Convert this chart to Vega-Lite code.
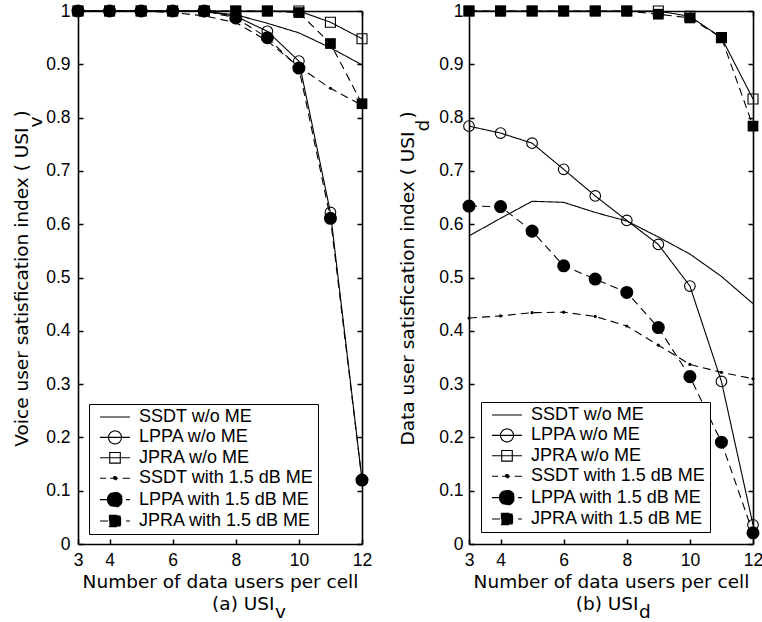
{
 "$schema": "https://vega.github.io/schema/vega-lite/v6.json",
 "padding": {"left": 12, "top": 2, "right": 0, "bottom": 0},
 "background": "white",
 "data": {"values": [
  {"p":"a","s":"SSDT w/o ME","x":3,"y":1},{"p":"a","s":"SSDT w/o ME","x":4,"y":1},{"p":"a","s":"SSDT w/o ME","x":5,"y":1},{"p":"a","s":"SSDT w/o ME","x":6,"y":1},{"p":"a","s":"SSDT w/o ME","x":7,"y":0.999},{"p":"a","s":"SSDT w/o ME","x":8,"y":0.993},{"p":"a","s":"SSDT w/o ME","x":9,"y":0.977},{"p":"a","s":"SSDT w/o ME","x":10,"y":0.959},{"p":"a","s":"SSDT w/o ME","x":11,"y":0.931},{"p":"a","s":"SSDT w/o ME","x":12,"y":0.899},
  {"p":"a","s":"LPPA w/o ME","x":3,"y":1},{"p":"a","s":"LPPA w/o ME","x":4,"y":1},{"p":"a","s":"LPPA w/o ME","x":5,"y":1},{"p":"a","s":"LPPA w/o ME","x":6,"y":1},{"p":"a","s":"LPPA w/o ME","x":7,"y":1},{"p":"a","s":"LPPA w/o ME","x":8,"y":0.99},{"p":"a","s":"LPPA w/o ME","x":9,"y":0.962},{"p":"a","s":"LPPA w/o ME","x":10,"y":0.906},{"p":"a","s":"LPPA w/o ME","x":11,"y":0.622},{"p":"a","s":"LPPA w/o ME","x":12,"y":0.12},
  {"p":"a","s":"JPRA w/o ME","x":3,"y":1},{"p":"a","s":"JPRA w/o ME","x":4,"y":1},{"p":"a","s":"JPRA w/o ME","x":5,"y":1},{"p":"a","s":"JPRA w/o ME","x":6,"y":1},{"p":"a","s":"JPRA w/o ME","x":7,"y":1},{"p":"a","s":"JPRA w/o ME","x":8,"y":1},{"p":"a","s":"JPRA w/o ME","x":9,"y":1},{"p":"a","s":"JPRA w/o ME","x":10,"y":1},{"p":"a","s":"JPRA w/o ME","x":11,"y":0.979},{"p":"a","s":"JPRA w/o ME","x":12,"y":0.948},
  {"p":"a","s":"SSDT with 1.5 dB ME","x":3,"y":1},{"p":"a","s":"SSDT with 1.5 dB ME","x":4,"y":1},{"p":"a","s":"SSDT with 1.5 dB ME","x":5,"y":1},{"p":"a","s":"SSDT with 1.5 dB ME","x":6,"y":0.997},{"p":"a","s":"SSDT with 1.5 dB ME","x":7,"y":0.991},{"p":"a","s":"SSDT with 1.5 dB ME","x":8,"y":0.978},{"p":"a","s":"SSDT with 1.5 dB ME","x":9,"y":0.944},{"p":"a","s":"SSDT with 1.5 dB ME","x":10,"y":0.895},{"p":"a","s":"SSDT with 1.5 dB ME","x":11,"y":0.855},{"p":"a","s":"SSDT with 1.5 dB ME","x":12,"y":0.823},
  {"p":"a","s":"LPPA with 1.5 dB ME","x":3,"y":1},{"p":"a","s":"LPPA with 1.5 dB ME","x":4,"y":1},{"p":"a","s":"LPPA with 1.5 dB ME","x":5,"y":1},{"p":"a","s":"LPPA with 1.5 dB ME","x":6,"y":1},{"p":"a","s":"LPPA with 1.5 dB ME","x":7,"y":1},{"p":"a","s":"LPPA with 1.5 dB ME","x":8,"y":0.987},{"p":"a","s":"LPPA with 1.5 dB ME","x":9,"y":0.95},{"p":"a","s":"LPPA with 1.5 dB ME","x":10,"y":0.893},{"p":"a","s":"LPPA with 1.5 dB ME","x":11,"y":0.611},{"p":"a","s":"LPPA with 1.5 dB ME","x":12,"y":0.12},
  {"p":"a","s":"JPRA with 1.5 dB ME","x":3,"y":1},{"p":"a","s":"JPRA with 1.5 dB ME","x":4,"y":1},{"p":"a","s":"JPRA with 1.5 dB ME","x":5,"y":1},{"p":"a","s":"JPRA with 1.5 dB ME","x":6,"y":1},{"p":"a","s":"JPRA with 1.5 dB ME","x":7,"y":1},{"p":"a","s":"JPRA with 1.5 dB ME","x":8,"y":1},{"p":"a","s":"JPRA with 1.5 dB ME","x":9,"y":1},{"p":"a","s":"JPRA with 1.5 dB ME","x":10,"y":0.997},{"p":"a","s":"JPRA with 1.5 dB ME","x":11,"y":0.939},{"p":"a","s":"JPRA with 1.5 dB ME","x":12,"y":0.826},
  {"p":"b","s":"SSDT w/o ME","x":3,"y":0.578},{"p":"b","s":"SSDT w/o ME","x":4,"y":0.611},{"p":"b","s":"SSDT w/o ME","x":5,"y":0.643},{"p":"b","s":"SSDT w/o ME","x":6,"y":0.641},{"p":"b","s":"SSDT w/o ME","x":7,"y":0.622},{"p":"b","s":"SSDT w/o ME","x":8,"y":0.606},{"p":"b","s":"SSDT w/o ME","x":9,"y":0.576},{"p":"b","s":"SSDT w/o ME","x":10,"y":0.544},{"p":"b","s":"SSDT w/o ME","x":11,"y":0.502},{"p":"b","s":"SSDT w/o ME","x":12,"y":0.451},
  {"p":"b","s":"LPPA w/o ME","x":3,"y":0.784},{"p":"b","s":"LPPA w/o ME","x":4,"y":0.771},{"p":"b","s":"LPPA w/o ME","x":5,"y":0.752},{"p":"b","s":"LPPA w/o ME","x":6,"y":0.703},{"p":"b","s":"LPPA w/o ME","x":7,"y":0.653},{"p":"b","s":"LPPA w/o ME","x":8,"y":0.607},{"p":"b","s":"LPPA w/o ME","x":9,"y":0.562},{"p":"b","s":"LPPA w/o ME","x":10,"y":0.484},{"p":"b","s":"LPPA w/o ME","x":11,"y":0.305},{"p":"b","s":"LPPA w/o ME","x":12,"y":0.036},
  {"p":"b","s":"JPRA w/o ME","x":3,"y":1},{"p":"b","s":"JPRA w/o ME","x":4,"y":1},{"p":"b","s":"JPRA w/o ME","x":5,"y":1},{"p":"b","s":"JPRA w/o ME","x":6,"y":1},{"p":"b","s":"JPRA w/o ME","x":7,"y":1},{"p":"b","s":"JPRA w/o ME","x":8,"y":1},{"p":"b","s":"JPRA w/o ME","x":9,"y":1},{"p":"b","s":"JPRA w/o ME","x":10,"y":0.99},{"p":"b","s":"JPRA w/o ME","x":11,"y":0.95},{"p":"b","s":"JPRA w/o ME","x":12,"y":0.835},
  {"p":"b","s":"SSDT with 1.5 dB ME","x":3,"y":0.424},{"p":"b","s":"SSDT with 1.5 dB ME","x":4,"y":0.428},{"p":"b","s":"SSDT with 1.5 dB ME","x":5,"y":0.434},{"p":"b","s":"SSDT with 1.5 dB ME","x":6,"y":0.435},{"p":"b","s":"SSDT with 1.5 dB ME","x":7,"y":0.427},{"p":"b","s":"SSDT with 1.5 dB ME","x":8,"y":0.409},{"p":"b","s":"SSDT with 1.5 dB ME","x":9,"y":0.373},{"p":"b","s":"SSDT with 1.5 dB ME","x":10,"y":0.337},{"p":"b","s":"SSDT with 1.5 dB ME","x":11,"y":0.322},{"p":"b","s":"SSDT with 1.5 dB ME","x":12,"y":0.31},
  {"p":"b","s":"LPPA with 1.5 dB ME","x":3,"y":0.634},{"p":"b","s":"LPPA with 1.5 dB ME","x":4,"y":0.633},{"p":"b","s":"LPPA with 1.5 dB ME","x":5,"y":0.587},{"p":"b","s":"LPPA with 1.5 dB ME","x":6,"y":0.522},{"p":"b","s":"LPPA with 1.5 dB ME","x":7,"y":0.497},{"p":"b","s":"LPPA with 1.5 dB ME","x":8,"y":0.472},{"p":"b","s":"LPPA with 1.5 dB ME","x":9,"y":0.406},{"p":"b","s":"LPPA with 1.5 dB ME","x":10,"y":0.314},{"p":"b","s":"LPPA with 1.5 dB ME","x":11,"y":0.191},{"p":"b","s":"LPPA with 1.5 dB ME","x":12,"y":0.021},
  {"p":"b","s":"JPRA with 1.5 dB ME","x":3,"y":1},{"p":"b","s":"JPRA with 1.5 dB ME","x":4,"y":1},{"p":"b","s":"JPRA with 1.5 dB ME","x":5,"y":1},{"p":"b","s":"JPRA with 1.5 dB ME","x":6,"y":1},{"p":"b","s":"JPRA with 1.5 dB ME","x":7,"y":1},{"p":"b","s":"JPRA with 1.5 dB ME","x":8,"y":1},{"p":"b","s":"JPRA with 1.5 dB ME","x":9,"y":0.994},{"p":"b","s":"JPRA with 1.5 dB ME","x":10,"y":0.987},{"p":"b","s":"JPRA with 1.5 dB ME","x":11,"y":0.95},{"p":"b","s":"JPRA with 1.5 dB ME","x":12,"y":0.784}
 ]},
 "spacing": 26,
 "hconcat": [
  {
   "width": 284, "height": 533,
   "transform": [{"filter": "datum.p === 'a'"}],
   "layer": [
    {"mark": {"type": "line", "color": "black", "strokeWidth": 1.1},
     "encoding": {
      "x": {"field": "x", "type": "quantitative", "scale": {"domain": [3, 12], "nice": false, "zero": false},
            "axis": {"orient": "bottom", "values": [3,4,6,8,10,12], "tickSize": -5, "tickWidth": 1.5, "labelPadding": 12, "labelFlush": false, "labelOverlap": false, "domainWidth": 1.6,
                     "title": "Number of data users per cell", "titleX": 142, "titleY": 43, "titleAlign": "center", "titleBaseline": "alphabetic"}},
      "y": {"field": "y", "type": "quantitative", "scale": {"domain": [0, 1], "nice": false, "zero": false},
            "axis": {"orient": "left", "values": [0,0.1,0.2,0.3,0.4,0.5,0.6,0.7,0.8,0.9,1], "format": ".1~f", "tickSize": -5, "tickWidth": 1.5, "labelPadding": 13, "labelFlush": false, "labelOverlap": false, "domainWidth": 1.6,
                     "title": "Voice user satisfication index ( USI", "titleAngle": 270, "titleAlign": "right", "titleBaseline": "alphabetic", "titleX": -50.5, "titleY": 116}},
      "detail": {"field": "s"},
      "strokeDash": {"field": "s", "type": "nominal",
                     "scale": {"domain": ["SSDT w/o ME","LPPA w/o ME","JPRA w/o ME","SSDT with 1.5 dB ME","LPPA with 1.5 dB ME","JPRA with 1.5 dB ME"], "range": [[1,0],[1,0],[1,0],[8,5],[8,5],[8,5]]},
                     "legend": {"title": null, "orient": "none", "legendX": 11, "legendY": 393, "padding": 4, "rowPadding": 2.4, "symbolSize": 256, "symbolOffset": 13, "labelOffset": 15,
                                "labelExpr": "datum.label + '\u00a0\u00a0'",
                                "labelFont": "Liberation Sans", "labelFontSize": 18, "labelColor": "black", "labelLimit": 400, "strokeColor": "black", "fillColor": "white", "symbolStrokeColor": "black", "symbolStrokeWidth": 1.1, "symbolOpacity": 1,
                                "encode": {"symbols": {"update": {
                                  "shape": {"signal": "datum.value === 'SSDT w/o ME' ? 'M-1.875,0L1.875,0' : datum.value === 'LPPA w/o ME' ? 'M-1.875,0L1.875,0M-0.81,0A0.81,0.81,0,1,1,0.81,0A0.81,0.81,0,1,1,-0.81,0Z' : datum.value === 'JPRA w/o ME' ? 'M-1.875,0L1.875,0M-0.66,-0.66L0.66,-0.66L0.66,0.66L-0.66,0.66Z' : datum.value === 'SSDT with 1.5 dB ME' ? 'M-1.875,0L-1.1,0M-0.6,0L0.45,0M0.95,0L1.875,0M-0.22,0A0.22,0.22,0,1,1,0.22,0A0.22,0.22,0,1,1,-0.22,0Z' : datum.value === 'LPPA with 1.5 dB ME' ? 'M-1.875,0L1.875,0M-0.94,0A0.94,0.94,0,1,1,0.94,0A0.94,0.94,0,1,1,-0.94,0Z' : 'M-1.875,0L1.875,0M-0.7,-0.7L0.7,-0.7L0.7,0.7L-0.7,0.7Z'"},
                                  "fill": {"signal": "indexof(datum.value, 'with') >= 0 ? 'black' : 'transparent'"},
                                  "stroke": {"value": "black"},
                                  "strokeWidth": {"value": 1.1},
                                  "strokeDash": {"value": [1, 0]},
                                  "size": {"value": 256},
                                  "opacity": {"value": 1}
                                }}}}}
     }},
    {"mark": {"type": "point", "opacity": 0},
     "encoding": {
      "x": {"field": "x", "type": "quantitative", "axis": {"orient": "top", "values": [3,4,6,8,10,12], "tickSize": -5, "tickWidth": 1.5, "labels": false, "domainWidth": 1.6, "title": null}},
      "y": {"field": "y", "type": "quantitative", "axis": {"orient": "right", "values": [0,0.1,0.2,0.3,0.4,0.5,0.6,0.7,0.8,0.9,1], "tickSize": -5, "tickWidth": 1.5, "labels": false, "domainWidth": 1.6, "title": null}}
     }},
    {"mark": {"type": "point", "opacity": 0},
     "encoding": {
      "x": {"field": "x", "type": "quantitative", "axis": {"orient": "bottom", "labels": false, "ticks": false, "domain": false, "title": "(a) USI", "titleX": 196, "titleY": 65, "titleAlign": "right", "titleBaseline": "alphabetic"}},
      "y": {"field": "y", "type": "quantitative", "axis": {"orient": "left", "labels": false, "ticks": false, "domain": false, "title": "v", "titleAngle": 270, "titleAlign": "left", "titleBaseline": "alphabetic", "titleX": -37, "titleY": 116}}
     }},
    {"mark": {"type": "point", "opacity": 0},
     "encoding": {
      "x": {"field": "x", "type": "quantitative", "axis": {"orient": "bottom", "labels": false, "ticks": false, "domain": false, "title": "v", "titleX": 196.5, "titleY": 73, "titleAlign": "left", "titleBaseline": "alphabetic"}},
      "y": {"field": "y", "type": "quantitative", "axis": {"orient": "left", "labels": false, "ticks": false, "domain": false, "title": ")", "titleAngle": 270, "titleAlign": "left", "titleBaseline": "alphabetic", "titleX": -50.5, "titleY": 106}}
     }},
    {"transform": [{"filter": "datum.s === 'JPRA w/o ME'"}],
     "mark": {"type": "point", "shape": "square", "filled": false, "color": "black", "strokeWidth": 1.1, "size": 100, "opacity": 1},
     "encoding": {"x": {"field": "x", "type": "quantitative", "axis": null}, "y": {"field": "y", "type": "quantitative", "axis": null}}},
    {"transform": [{"filter": "datum.s === 'JPRA with 1.5 dB ME'"}],
     "mark": {"type": "point", "shape": "square", "filled": true, "color": "black", "size": 115, "opacity": 1},
     "encoding": {"x": {"field": "x", "type": "quantitative", "axis": null}, "y": {"field": "y", "type": "quantitative", "axis": null}}},
    {"transform": [{"filter": "datum.s === 'LPPA w/o ME'"}],
     "mark": {"type": "point", "shape": "circle", "filled": false, "color": "black", "strokeWidth": 1.1, "size": 113, "opacity": 1},
     "encoding": {"x": {"field": "x", "type": "quantitative", "axis": null}, "y": {"field": "y", "type": "quantitative", "axis": null}}},
    {"transform": [{"filter": "datum.s === 'LPPA with 1.5 dB ME'"}],
     "mark": {"type": "point", "shape": "circle", "filled": true, "color": "black", "size": 170, "opacity": 1},
     "encoding": {"x": {"field": "x", "type": "quantitative", "axis": null}, "y": {"field": "y", "type": "quantitative", "axis": null}}},
    {"transform": [{"filter": "datum.s === 'SSDT with 1.5 dB ME'"}],
     "mark": {"type": "point", "shape": "circle", "filled": true, "color": "black", "size": 10, "opacity": 1},
     "encoding": {"x": {"field": "x", "type": "quantitative", "axis": null}, "y": {"field": "y", "type": "quantitative", "axis": null}}}
   ],
   "resolve": {"axis": {"x": "independent", "y": "independent"}}
  },
  {
   "width": 284, "height": 533,
   "transform": [{"filter": "datum.p === 'b'"}],
   "layer": [
    {"mark": {"type": "line", "color": "black", "strokeWidth": 1.1},
     "encoding": {
      "x": {"field": "x", "type": "quantitative", "scale": {"domain": [3, 12], "nice": false, "zero": false},
            "axis": {"orient": "bottom", "values": [3,4,6,8,10,12], "tickSize": -5, "tickWidth": 1.5, "labelPadding": 12, "labelFlush": false, "labelOverlap": false, "domainWidth": 1.6,
                     "title": "Number of data users per cell", "titleX": 142, "titleY": 43, "titleAlign": "center", "titleBaseline": "alphabetic"}},
      "y": {"field": "y", "type": "quantitative", "scale": {"domain": [0, 1], "nice": false, "zero": false},
            "axis": {"orient": "left", "values": [0,0.1,0.2,0.3,0.4,0.5,0.6,0.7,0.8,0.9,1], "format": ".1~f", "tickSize": -5, "tickWidth": 1.5, "labelPadding": 11, "labelFlush": false, "labelOverlap": false, "domainWidth": 1.6,
                     "title": "Data user satisfication index ( USI", "titleAngle": 270, "titleAlign": "right", "titleBaseline": "alphabetic", "titleX": -56, "titleY": 120}},
      "detail": {"field": "s"},
      "strokeDash": {"field": "s", "type": "nominal",
                     "scale": {"domain": ["SSDT w/o ME","LPPA w/o ME","JPRA w/o ME","SSDT with 1.5 dB ME","LPPA with 1.5 dB ME","JPRA with 1.5 dB ME"], "range": [[1,0],[1,0],[1,0],[8,5],[8,5],[8,5]]},
                     "legend": {"title": null, "orient": "none", "legendX": 12, "legendY": 391, "padding": 4, "rowPadding": 2.4, "symbolSize": 256, "symbolOffset": 13, "labelOffset": 15,
                                "labelExpr": "datum.label + '\u00a0\u00a0'",
                                "labelFont": "Liberation Sans", "labelFontSize": 18, "labelColor": "black", "labelLimit": 400, "strokeColor": "black", "fillColor": "white", "symbolStrokeColor": "black", "symbolStrokeWidth": 1.1, "symbolOpacity": 1,
                                "encode": {"symbols": {"update": {
                                  "shape": {"signal": "datum.value === 'SSDT w/o ME' ? 'M-1.875,0L1.875,0' : datum.value === 'LPPA w/o ME' ? 'M-1.875,0L1.875,0M-0.81,0A0.81,0.81,0,1,1,0.81,0A0.81,0.81,0,1,1,-0.81,0Z' : datum.value === 'JPRA w/o ME' ? 'M-1.875,0L1.875,0M-0.66,-0.66L0.66,-0.66L0.66,0.66L-0.66,0.66Z' : datum.value === 'SSDT with 1.5 dB ME' ? 'M-1.875,0L-1.1,0M-0.6,0L0.45,0M0.95,0L1.875,0M-0.22,0A0.22,0.22,0,1,1,0.22,0A0.22,0.22,0,1,1,-0.22,0Z' : datum.value === 'LPPA with 1.5 dB ME' ? 'M-1.875,0L1.875,0M-0.94,0A0.94,0.94,0,1,1,0.94,0A0.94,0.94,0,1,1,-0.94,0Z' : 'M-1.875,0L1.875,0M-0.7,-0.7L0.7,-0.7L0.7,0.7L-0.7,0.7Z'"},
                                  "fill": {"signal": "indexof(datum.value, 'with') >= 0 ? 'black' : 'transparent'"},
                                  "stroke": {"value": "black"},
                                  "strokeWidth": {"value": 1.1},
                                  "strokeDash": {"value": [1, 0]},
                                  "size": {"value": 256},
                                  "opacity": {"value": 1}
                                }}}}}
     }},
    {"mark": {"type": "point", "opacity": 0},
     "encoding": {
      "x": {"field": "x", "type": "quantitative", "axis": {"orient": "top", "values": [3,4,6,8,10,12], "tickSize": -5, "tickWidth": 1.5, "labels": false, "domainWidth": 1.6, "title": null}},
      "y": {"field": "y", "type": "quantitative", "axis": {"orient": "right", "values": [0,0.1,0.2,0.3,0.4,0.5,0.6,0.7,0.8,0.9,1], "tickSize": -5, "tickWidth": 1.5, "labels": false, "domainWidth": 1.6, "title": null}}
     }},
    {"mark": {"type": "point", "opacity": 0},
     "encoding": {
      "x": {"field": "x", "type": "quantitative", "axis": {"orient": "bottom", "labels": false, "ticks": false, "domain": false, "title": "(b) USI", "titleX": 169, "titleY": 65, "titleAlign": "right", "titleBaseline": "alphabetic"}},
      "y": {"field": "y", "type": "quantitative", "axis": {"orient": "left", "labels": false, "ticks": false, "domain": false, "title": "d", "titleAngle": 270, "titleAlign": "left", "titleBaseline": "alphabetic", "titleX": -41, "titleY": 120}}
     }},
    {"mark": {"type": "point", "opacity": 0},
     "encoding": {
      "x": {"field": "x", "type": "quantitative", "axis": {"orient": "bottom", "labels": false, "ticks": false, "domain": false, "title": "d", "titleX": 169.5, "titleY": 73, "titleAlign": "left", "titleBaseline": "alphabetic"}},
      "y": {"field": "y", "type": "quantitative", "axis": {"orient": "left", "labels": false, "ticks": false, "domain": false, "title": ")", "titleAngle": 270, "titleAlign": "left", "titleBaseline": "alphabetic", "titleX": -56, "titleY": 107}}
     }},
    {"transform": [{"filter": "datum.s === 'JPRA w/o ME'"}],
     "mark": {"type": "point", "shape": "square", "filled": false, "color": "black", "strokeWidth": 1.1, "size": 100, "opacity": 1},
     "encoding": {"x": {"field": "x", "type": "quantitative", "axis": null}, "y": {"field": "y", "type": "quantitative", "axis": null}}},
    {"transform": [{"filter": "datum.s === 'JPRA with 1.5 dB ME'"}],
     "mark": {"type": "point", "shape": "square", "filled": true, "color": "black", "size": 115, "opacity": 1},
     "encoding": {"x": {"field": "x", "type": "quantitative", "axis": null}, "y": {"field": "y", "type": "quantitative", "axis": null}}},
    {"transform": [{"filter": "datum.s === 'LPPA w/o ME'"}],
     "mark": {"type": "point", "shape": "circle", "filled": false, "color": "black", "strokeWidth": 1.1, "size": 113, "opacity": 1},
     "encoding": {"x": {"field": "x", "type": "quantitative", "axis": null}, "y": {"field": "y", "type": "quantitative", "axis": null}}},
    {"transform": [{"filter": "datum.s === 'LPPA with 1.5 dB ME'"}],
     "mark": {"type": "point", "shape": "circle", "filled": true, "color": "black", "size": 170, "opacity": 1},
     "encoding": {"x": {"field": "x", "type": "quantitative", "axis": null}, "y": {"field": "y", "type": "quantitative", "axis": null}}},
    {"transform": [{"filter": "datum.s === 'SSDT with 1.5 dB ME'"}],
     "mark": {"type": "point", "shape": "circle", "filled": true, "color": "black", "size": 10, "opacity": 1},
     "encoding": {"x": {"field": "x", "type": "quantitative", "axis": null}, "y": {"field": "y", "type": "quantitative", "axis": null}}}
   ],
   "resolve": {"axis": {"x": "independent", "y": "independent"}}
  }
 ],
 "resolve": {"scale": {"strokeDash": "independent"}, "legend": {"strokeDash": "independent"}},
 "config": {
  "view": {"stroke": null},
  "axis": {"grid": false, "labelFont": "Liberation Sans", "labelFontSize": 17.5, "labelColor": "black", "tickColor": "black", "domainColor": "black",
           "titleFont": "DejaVu Sans", "titleFontSize": 18.5, "titleFontWeight": "normal", "titleColor": "black"}
 }
}
